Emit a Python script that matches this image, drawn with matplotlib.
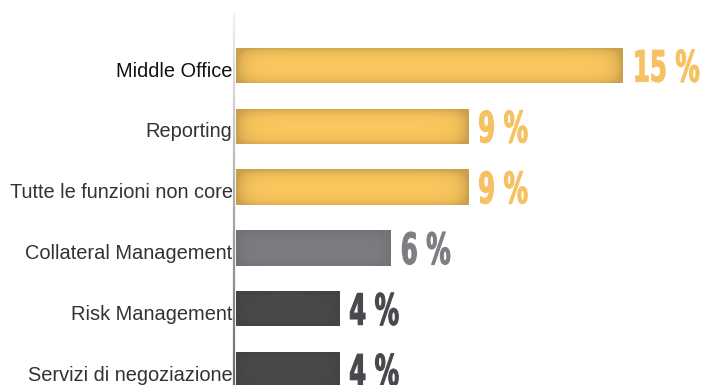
import numpy as np
import matplotlib
matplotlib.use("Agg")
import matplotlib.pyplot as plt
from matplotlib import font_manager
from matplotlib.collections import LineCollection
from matplotlib.colors import to_rgb
from matplotlib.patheffects import AbstractPathEffect
from matplotlib.text import Text
from matplotlib.transforms import Affine2D, Bbox, offset_copy

categories = ["Middle Office", "Reporting", "Tutte le funzioni non core",
              "Collateral Management", "Risk Management", "Servizi di negoziazione"]
values = [15, 9, 9, 6, 4, 4]
value_labels = ["15 %", "9 %", "9 %", "6 %", "4 %", "4 %"]
bar_colors = ["#fcc85e", "#fcc85e", "#fcc85e", "#7c7d81", "#47494b", "#47494b"]
value_colors = ["#f6c162", "#f6c162", "#f6c162", "#7e7e82", "#48494c", "#48494c"]
label_colors = ["#111111", "#333333", "#333333", "#333333", "#333333", "#333333"]


class Squeeze(AbstractPathEffect):
    """Draw glyphs compressed horizontally, optionally thickened."""

    def __init__(self, sx, stroke=0.0):
        super().__init__()
        self.sx = sx
        self.stroke = stroke

    def draw_path(self, renderer, gc, tpath, affine, rgbFace=None):
        gc0 = renderer.new_gc()
        gc0.copy_properties(gc)
        if self.stroke > 0 and rgbFace is not None:
            gc0.set_linewidth(self.stroke)
            gc0.set_foreground(rgbFace)
            gc0.set_joinstyle("round")
        renderer.draw_path(gc0, tpath, Affine2D().scale(self.sx, 1.0) + affine, rgbFace)
        gc0.restore()


class CondensedText(Text):
    """Text whose glyphs (and extent) are narrowed by a factor sx."""

    def __init__(self, x, y, text, sx=1.0, stroke=0.0, **kw):
        super().__init__(x, y, text, **kw)
        self.sx = sx
        self.set_path_effects([Squeeze(sx, stroke)])

    def get_window_extent(self, renderer=None, dpi=None):
        bb = super().get_window_extent(renderer, dpi)
        return Bbox.from_extents(bb.x0, bb.y0, bb.x0 + bb.width * self.sx, bb.y1)


def bevel(ax, bar, x0, x1, ytop, ybot, color, depth):
    base = np.array(to_rgb(color))
    ys = np.linspace(0, 1, 60)[:, None]
    xs = np.linspace(x0, x1, 400)[None, :]
    edge_y = np.exp(-ys / 0.13) + 0.6 * np.exp(-(1 - ys) / 0.13)
    edge_x = np.exp(-(xs - x0) / 0.3) + np.exp(-(x1 - xs) / 0.3)
    shade = np.clip(edge_y + edge_x, 0, 1) * depth
    rgb = base * (1 - shade[..., None])
    img = ax.imshow(rgb, extent=(x0, x1, ybot, ytop), aspect="auto",
                    interpolation="bilinear", zorder=2)
    img.set_clip_path(bar)


num_font = font_manager.FontProperties(family="DejaVu Sans", weight="bold",
                                       stretch="condensed", size=31)
if "Condensed" in font_manager.findfont(num_font):
    squeeze = 0.63
else:
    squeeze = 0.56

fig = plt.figure(figsize=(7.07, 3.85), dpi=100)
ax = fig.add_axes([236 / 707, 0, 471 / 707, 372 / 385])

y = np.arange(len(categories))
h = 0.58
bars = ax.barh(y, values, height=h, color=bar_colors, zorder=1)
for i, b in enumerate(bars):
    depth = 0.2 if i < 3 else 0.08
    bevel(ax, b, 0, values[i], y[i] - h / 2, y[i] + h / 2, bar_colors[i], depth)

# category names, right aligned against the axis line
for i, name in enumerate(categories):
    ax.annotate(name, xy=(0, y[i]), xycoords=("axes fraction", "data"),
                xytext=(-2.5, -8), textcoords="offset points",
                ha="right", va="baseline", fontsize=14.4,
                family="Liberation Sans", color=label_colors[i])

# percentage labels at bar ends
num_offset = offset_copy(ax.transData, fig=fig, x=10, y=-16, units="dots")
for i, lab in enumerate(value_labels):
    t = CondensedText(values[i], y[i], lab, sx=squeeze, stroke=0.8,
                      transform=num_offset, ha="left", va="baseline",
                      fontproperties=num_font, color=value_colors[i])
    ax.add_artist(t)

# axis line fading from light at the top to grey at the bottom
ytop, ybot = -0.864, 5.255
ny = 80
ts = np.linspace(ytop, ybot, ny + 1)
segs = [[(-0.075, ts[k]), (-0.075, ts[k + 1])] for k in range(ny)]
greys = np.linspace(0.94, 0.42, ny)
lc = LineCollection(segs, colors=[(g, g, g) for g in greys], linewidths=1.6,
                    clip_on=False, zorder=3)
ax.add_collection(lc)

ax.set_xlim(0, 18.26)
ax.set_ylim(ybot, ytop)
ax.set_axis_off()

fig.savefig("out.png", dpi=100)
